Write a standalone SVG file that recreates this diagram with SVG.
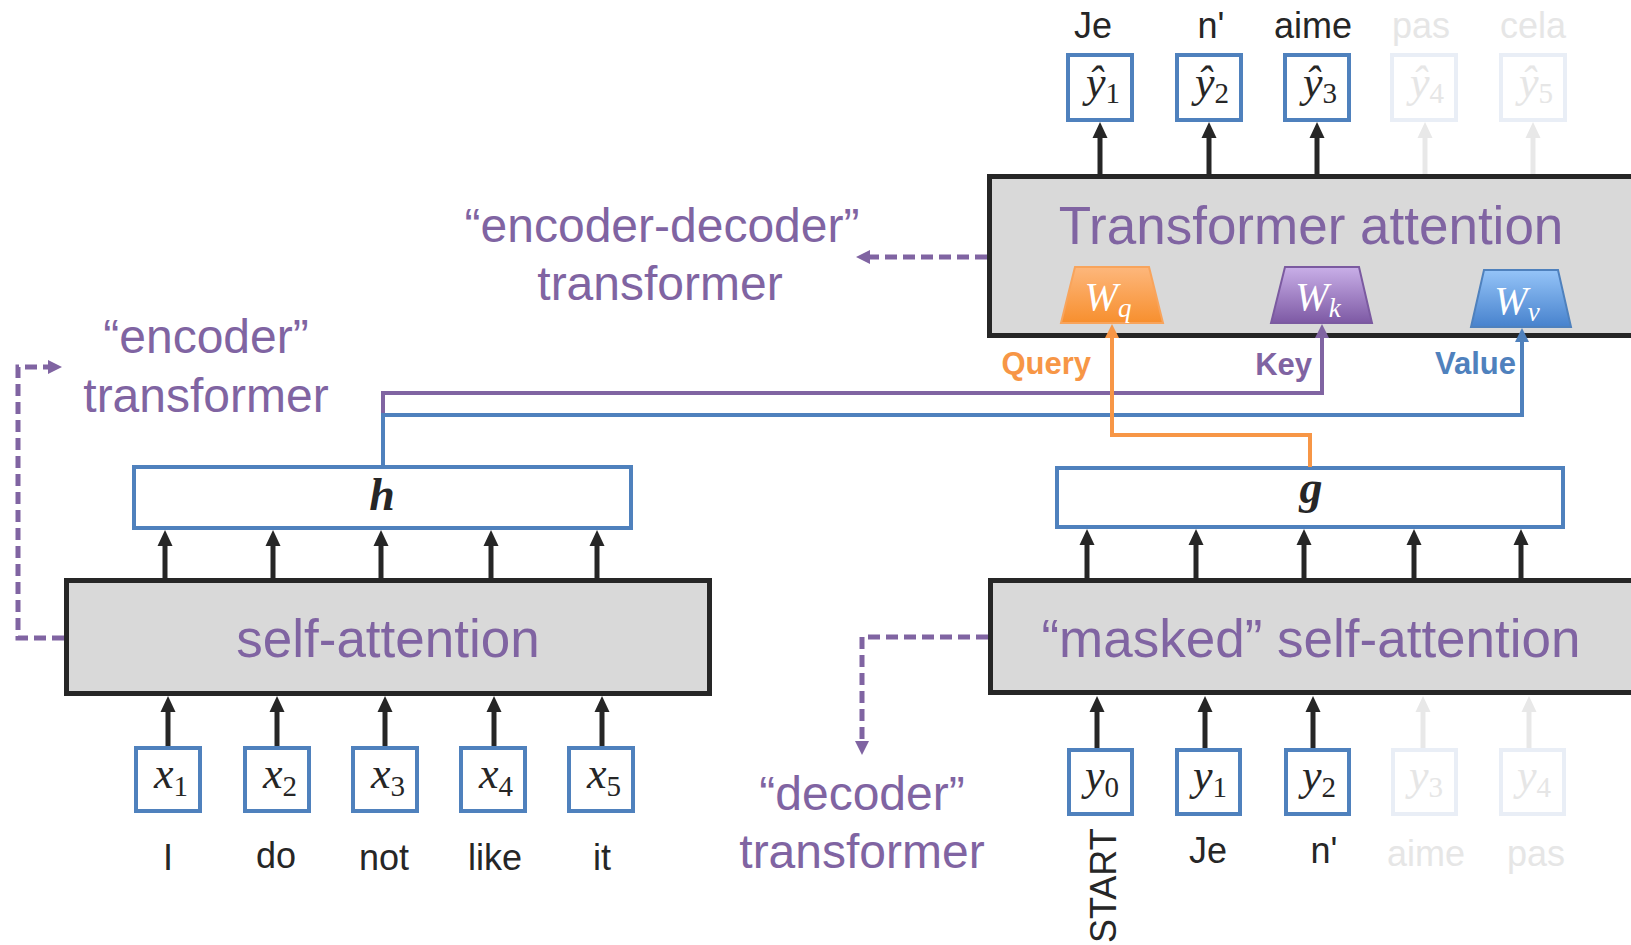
<svg xmlns="http://www.w3.org/2000/svg" width="1631" height="945" viewBox="0 0 1631 945">
<style>
.lbl{font-family:"Liberation Sans",Arial,sans-serif;fill:#262626;font-size:36px;text-anchor:middle}
.pur{font-family:"Liberation Sans",Arial,sans-serif;fill:#8064a2;font-size:48px;text-anchor:middle}
.big{font-family:"Liberation Sans",Arial,sans-serif;fill:#8064a2;font-size:53px;text-anchor:middle}
.math{font-family:"Liberation Serif","Times New Roman",serif;font-style:italic;fill:#262626;font-size:44px;text-anchor:middle}
.sub{font-style:normal;font-size:29px}
.bm{font-family:"Liberation Serif","Times New Roman",serif;font-style:italic;font-weight:bold;fill:#262626;font-size:46px;text-anchor:middle}
.wm{font-family:"Liberation Serif","Times New Roman",serif;font-style:italic;fill:#ffffff;font-size:40px;text-anchor:middle}
.isub{font-style:italic;font-size:27px}
.qkv{font-family:"Liberation Sans",Arial,sans-serif;font-weight:bold;font-size:31px;text-anchor:end}
.tok{fill:#ffffff;stroke:#4f81bd;stroke-width:4}
.tokf{fill:#ffffff;stroke:#e9eef6;stroke-width:4}
.grey{fill:#d9d9d9;stroke:#262626;stroke-width:5}
.ar{fill:none;stroke:#262626;stroke-width:5}
.arf{fill:none;stroke:#e8e8e8;stroke-width:5}
.dash{fill:none;stroke:#8064a2;stroke-width:5;stroke-dasharray:12 6}
text.fade{fill:#e6e6e6}
</style>
<defs>
<marker id="mb" viewBox="0 0 16 16" refX="1" refY="8" markerWidth="16" markerHeight="16" markerUnits="userSpaceOnUse" orient="auto"><path d="M0,0.5 L16,8 L0,15.5 z" fill="#262626"/></marker>
<marker id="mf" viewBox="0 0 16 16" refX="1" refY="8" markerWidth="16" markerHeight="16" markerUnits="userSpaceOnUse" orient="auto"><path d="M0,0.5 L16,8 L0,15.5 z" fill="#e8e8e8"/></marker>
<marker id="mo" viewBox="0 0 14 14" refX="1" refY="7" markerWidth="14" markerHeight="14" markerUnits="userSpaceOnUse" orient="auto"><path d="M0,0 L14,7 L0,14 z" fill="#f79646"/></marker>
<marker id="mp" viewBox="0 0 14 14" refX="1" refY="7" markerWidth="14" markerHeight="14" markerUnits="userSpaceOnUse" orient="auto"><path d="M0,0 L14,7 L0,14 z" fill="#8064a2"/></marker>
<marker id="mbl" viewBox="0 0 14 14" refX="1" refY="7" markerWidth="14" markerHeight="14" markerUnits="userSpaceOnUse" orient="auto"><path d="M0,0 L14,7 L0,14 z" fill="#4f81bd"/></marker>
<linearGradient id="go" x1="0" y1="0" x2="0" y2="1"><stop offset="0" stop-color="#fdb77c"/><stop offset="1" stop-color="#f78f2e"/></linearGradient>
<linearGradient id="gp" x1="0" y1="0" x2="0" y2="1"><stop offset="0" stop-color="#c9afe8"/><stop offset="1" stop-color="#7d59a4"/></linearGradient>
<linearGradient id="gb" x1="0" y1="0" x2="0" y2="1"><stop offset="0" stop-color="#95c4f8"/><stop offset="1" stop-color="#4782cd"/></linearGradient>
</defs>

<g id="transformer-attention">
<rect class="grey" x="989.5" y="176.5" width="700" height="159"/>
<text class="big" x="1311" y="244">Transformer attention</text>
</g>
<g id="Wq">
<polygon points="1075,267 1149,267 1163,323 1061,323" fill="url(#go)" stroke="#f8a45c" stroke-width="2"/>
<text class="wm" x="1108" y="310">W<tspan class="isub" dy="7">q</tspan></text>
</g>
<g id="Wk">
<polygon points="1285,267 1359,267 1372,323 1271,323" fill="url(#gp)" stroke="#7b5aa0" stroke-width="2"/>
<text class="wm" x="1318" y="310">W<tspan class="isub" dy="7">k</tspan></text>
</g>
<g id="Wv">
<polygon points="1484,270 1558,270 1571,327 1471,327" fill="url(#gb)" stroke="#4f81bd" stroke-width="2"/>
<text class="wm" x="1517" y="314">W<tspan class="isub" dy="7">v</tspan></text>
</g>
<g id="qkv-labels">
<text class="qkv" x="1091" y="374" fill="#f79646">Query</text>
<text class="qkv" x="1312" y="375" fill="#8064a2">Key</text>
<text class="qkv" x="1516" y="374" fill="#4f81bd">Value</text>
</g>

<g id="outputs">
<rect class="tok" x="1068" y="55" width="64" height="65"/>
<text class="math" x="1103" y="97">ŷ<tspan class="sub" dy="6">1</tspan></text>
<rect class="tok" x="1177" y="55" width="64" height="65"/>
<text class="math" x="1212" y="97">ŷ<tspan class="sub" dy="6">2</tspan></text>
<rect class="tok" x="1285" y="55" width="64" height="65"/>
<text class="math" x="1320" y="97">ŷ<tspan class="sub" dy="6">3</tspan></text>
<rect class="tokf" x="1392" y="55" width="64" height="65"/>
<text class="math fade" x="1427" y="97">ŷ<tspan class="sub" dy="6">4</tspan></text>
<rect class="tokf" x="1501" y="55" width="64" height="65"/>
<text class="math fade" x="1536" y="97">ŷ<tspan class="sub" dy="6">5</tspan></text>
<text class="lbl" x="1093" y="38">Je</text>
<text class="lbl" x="1211" y="38">n'</text>
<text class="lbl" x="1313" y="38">aime</text>
<text class="lbl fade" x="1421" y="38">pas</text>
<text class="lbl fade" x="1533" y="38">cela</text>
</g>

<g id="encoder-decoder-label">
<text class="pur" x="662" y="242">“encoder-decoder”</text>
<text class="pur" x="660" y="300">transformer</text>
</g>
<g id="encoder-label">
<text class="pur" x="206" y="353">“encoder”</text>
<text class="pur" x="206" y="412">transformer</text>
</g>
<g id="decoder-label">
<text class="pur" x="862" y="810">“decoder”</text>
<text class="pur" x="862" y="868">transformer</text>
</g>

<g id="h">
<rect class="tok" x="134" y="467" width="497" height="61"/>
<text class="bm" x="382" y="510">h</text>
</g>
<g id="g">
<rect class="tok" x="1057" y="468" width="506" height="59"/>
<text class="bm" x="1311" y="503">g</text>
</g>

<g id="self-attention">
<rect class="grey" x="66.5" y="580.5" width="643" height="113"/>
<text class="big" x="388" y="657">self-attention</text>
</g>
<g id="masked-self-attention">
<rect class="grey" x="990.5" y="580.5" width="700" height="112"/>
<text class="big" x="1311" y="657">“masked” self-attention</text>
</g>

<g id="inputs">
<rect class="tok" x="136" y="748" width="64" height="63"/>
<text class="math" x="171" y="788">x<tspan class="sub" dy="8">1</tspan></text>
<rect class="tok" x="245" y="748" width="64" height="63"/>
<text class="math" x="280" y="788">x<tspan class="sub" dy="8">2</tspan></text>
<rect class="tok" x="353" y="748" width="64" height="63"/>
<text class="math" x="388" y="788">x<tspan class="sub" dy="8">3</tspan></text>
<rect class="tok" x="461" y="748" width="64" height="63"/>
<text class="math" x="496" y="788">x<tspan class="sub" dy="8">4</tspan></text>
<rect class="tok" x="569" y="748" width="64" height="63"/>
<text class="math" x="604" y="788">x<tspan class="sub" dy="8">5</tspan></text>
<text class="lbl" x="168" y="870">I</text>
<text class="lbl" x="276" y="868">do</text>
<text class="lbl" x="384" y="870">not</text>
<text class="lbl" x="495" y="870">like</text>
<text class="lbl" x="602" y="870">it</text>
</g>

<g id="decoder-inputs">
<rect class="tok" x="1069" y="750" width="63" height="64"/>
<text class="math" x="1102" y="790">y<tspan class="sub" dy="7">0</tspan></text>
<rect class="tok" x="1177" y="750" width="63" height="64"/>
<text class="math" x="1210" y="790">y<tspan class="sub" dy="7">1</tspan></text>
<rect class="tok" x="1286" y="750" width="63" height="64"/>
<text class="math" x="1319" y="790">y<tspan class="sub" dy="7">2</tspan></text>
<rect class="tokf" x="1393" y="750" width="63" height="64"/>
<text class="math fade" x="1426" y="790">y<tspan class="sub" dy="7">3</tspan></text>
<rect class="tokf" x="1501" y="750" width="63" height="64"/>
<text class="math fade" x="1534" y="790">y<tspan class="sub" dy="7">4</tspan></text>
<text class="lbl" style="text-anchor:start" transform="translate(1116,943) rotate(-90)">START</text>
<text class="lbl" x="1208" y="863">Je</text>
<text class="lbl" x="1324" y="863">n'</text>
<text class="lbl fade" x="1426" y="866">aime</text>
<text class="lbl fade" x="1536" y="866">pas</text>
</g>

<g id="connectors">
<path class="ar" d="M1100,174 V137" marker-end="url(#mb)"/>
<path class="ar" d="M1209,174 V137" marker-end="url(#mb)"/>
<path class="ar" d="M1317,174 V137" marker-end="url(#mb)"/>
<path class="arf" d="M1425,174 V137" marker-end="url(#mf)"/>
<path class="arf" d="M1533,174 V137" marker-end="url(#mf)"/>

<path class="ar" d="M165,578 V545" marker-end="url(#mb)"/>
<path class="ar" d="M273,578 V545" marker-end="url(#mb)"/>
<path class="ar" d="M381,578 V545" marker-end="url(#mb)"/>
<path class="ar" d="M491,578 V545" marker-end="url(#mb)"/>
<path class="ar" d="M597,578 V545" marker-end="url(#mb)"/>

<path class="ar" d="M168,746 V711" marker-end="url(#mb)"/>
<path class="ar" d="M277,746 V711" marker-end="url(#mb)"/>
<path class="ar" d="M385,746 V711" marker-end="url(#mb)"/>
<path class="ar" d="M494,746 V711" marker-end="url(#mb)"/>
<path class="ar" d="M602,746 V711" marker-end="url(#mb)"/>

<path class="ar" d="M1087,578 V544" marker-end="url(#mb)"/>
<path class="ar" d="M1196,578 V544" marker-end="url(#mb)"/>
<path class="ar" d="M1304,578 V544" marker-end="url(#mb)"/>
<path class="ar" d="M1414,578 V544" marker-end="url(#mb)"/>
<path class="ar" d="M1521,578 V544" marker-end="url(#mb)"/>

<path class="ar" d="M1097,748 V711" marker-end="url(#mb)"/>
<path class="ar" d="M1205,748 V711" marker-end="url(#mb)"/>
<path class="ar" d="M1313,748 V711" marker-end="url(#mb)"/>
<path class="arf" d="M1423,748 V711" marker-end="url(#mf)"/>
<path class="arf" d="M1529,748 V711" marker-end="url(#mf)"/>

<path d="M383,466 V393 H1322 V337" fill="none" stroke="#8064a2" stroke-width="4" marker-end="url(#mp)"/>
<path d="M383,466 V415 H1522 V341" fill="none" stroke="#4f81bd" stroke-width="4" marker-end="url(#mbl)"/>
<path d="M1310,467 V435 H1112 V337" fill="none" stroke="#f79646" stroke-width="4" marker-end="url(#mo)"/>

<path class="dash" d="M64,638 H18 V367 H49" marker-end="url(#mp)"/>
<path class="dash" d="M987,257 H869" marker-end="url(#mp)"/>
<path class="dash" d="M988,637 H862 V742" marker-end="url(#mp)"/>
</g>
</svg>
